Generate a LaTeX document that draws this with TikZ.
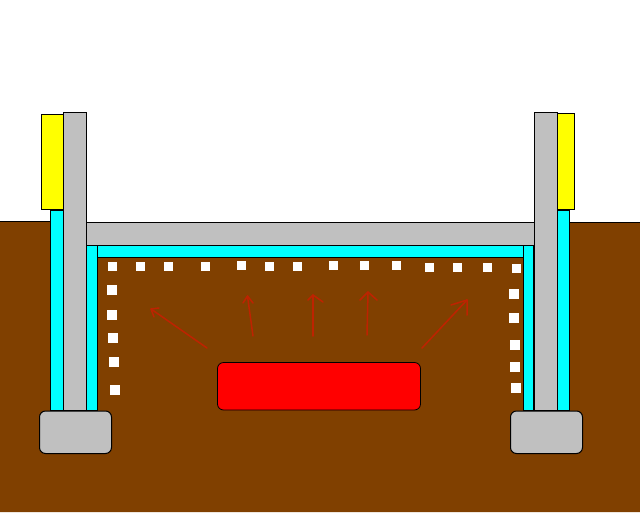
\documentclass[tikz,border=0pt]{standalone}
\definecolor{soil}{RGB}{128,64,0}
\definecolor{conc}{RGB}{192,192,192}
\definecolor{foam}{RGB}{0,255,255}
\definecolor{clad}{RGB}{255,255,0}
\definecolor{heat}{RGB}{255,0,0}
\definecolor{ray}{RGB}{190,35,0}
\tikzset{
  part/.style={draw=black,line width=1pt},
  concrete/.style={part,fill=conc},
  insul/.style={part,fill=foam},
  cladding/.style={part,fill=clad},
  foot/.style={part,fill=conc,rounded corners=6pt},
  heater/.style={part,fill=heat,rounded corners=6pt,line width=.8pt},
  pebble/.style={fill=white},
  rayline/.style={draw=ray,line width=1.5pt,line cap=round,line join=round}
}
\newcommand{\peb}[3][9]{\fill[pebble] (#2-#1/2,#3-#1/2) rectangle (#2+#1/2,#3+#1/2);}
\begin{document}
\begin{tikzpicture}[x=1pt,y=-1pt]
\useasboundingbox (0,0) rectangle (640,512);
\fill[white] (0,0) rectangle (640,512);
% ground
\fill[soil] (0,221) -- (50,221) -- (50,260) -- (570,260) -- (570,222) -- (640,222) -- (640,512) -- (0,512) -- cycle;
\draw[part] (0,221) -- (50.5,221);
\draw[part] (568,222) -- (640,222);
% insulation
\draw[insul] (50.5,210) rectangle (63.5,410.5);
\draw[insul] (86.5,245) rectangle (97.5,410.5);
\draw[insul] (557.5,210) rectangle (569.5,410.5);
\draw[insul] (523.5,245) rectangle (533.5,410.5);
\draw[insul] (97.5,245) rectangle (523.5,257.5);
% slab
\draw[concrete] (86.5,222.5) rectangle (534.5,245);
\fill[soil] (98,258) rectangle (523,262);
% walls
\draw[concrete] (63.5,112.5) rectangle (86.5,410.5);
\draw[concrete] (534.5,112.5) rectangle (557.5,410.5);
% cladding
\draw[cladding] (41.5,114.5) rectangle (63,209.5);
\draw[cladding] (557.5,113.5) rectangle (574.5,209.5);
% footings
\draw[foot] (39.5,411) rectangle (111.5,453.5);
\draw[foot] (510.5,411) rectangle (582.5,453.5);
% heater
\draw[heater] (217.5,362.5) rectangle (420.5,410);
% pebbles, top row
\peb{112}{266}\peb{140}{266}\peb{168}{266}\peb{205}{266}\peb{241}{265}\peb{269}{266}\peb{297}{266}
\peb{333}{265}\peb{364}{265}\peb{396}{265}\peb{429}{267}\peb{457}{267}\peb{487}{267}\peb{516}{268}
% pebbles, sides
\peb[10]{112}{290}\peb[10]{112}{315}\peb[10]{113}{338}\peb[10]{114}{362}\peb[10]{115}{390}
\peb[10]{514}{294}\peb[10]{514}{318}\peb[10]{515}{345}\peb[10]{515}{367}\peb[10]{516}{388}
% heat arrows (shaft, then barbs)
\coordinate (t1) at (151,309);
\coordinate (t2) at (247.5,296);
\coordinate (t3) at (313,295);
\coordinate (t4) at (368,292);
\coordinate (t5) at (467,300);
\draw[rayline] (207,348) -- (t1);
\draw[rayline] (159,308) -- (t1) -- (154,317);
\draw[rayline] (253,336) -- (t2);
\draw[rayline] (243,303) -- (t2) -- (253,303);
\draw[rayline] (313,336) -- (t3);
\draw[rayline] (308,300) -- (t3) -- (323,302);
\draw[rayline] (367,335) -- (t4);
\draw[rayline] (360,300) -- (t4) -- (377,300);
\draw[rayline] (422,348) -- (t5);
\draw[rayline] (451,305) -- (t5) -- (467,315);
\end{tikzpicture}
\end{document}
